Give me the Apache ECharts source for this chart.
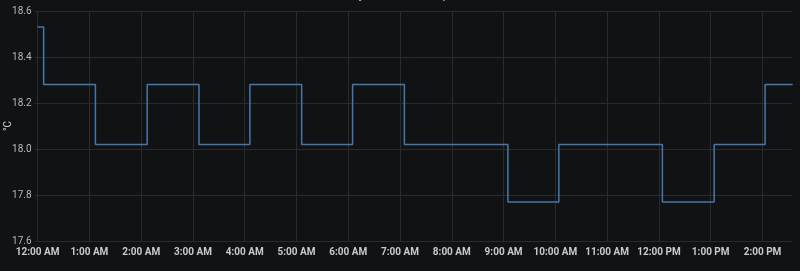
<!DOCTYPE html>
<html>
<head>
<meta charset="utf-8">
<script src="https://cdn.jsdelivr.net/npm/echarts@6/dist/echarts.min.js"></script>
<style>
html,body{margin:0;padding:0;background:#111214;}
#c{width:800px;height:271px;}
</style>
</head>
<body>
<div id="c"></div>
<script>
const seriesName = 'Baby Bedroom Temperature';
const changeTimes = ['00:00','00:07','01:07','02:07','03:07','04:06','05:06','06:05','07:05','09:05','10:04','12:04','13:04','14:03','14:35'];
const temps = [18.53,18.28,18.02,18.28,18.02,18.28,18.02,18.28,18.02,17.77,18.02,17.77,18.02,18.28,18.28];
const yTicks = [17.6,17.8,18.0,18.2,18.4,18.6];
const yUnit = '°C';

function toHours(s){const p=s.split(':');return +p[0]+(+p[1])/60;}
function hourLabel(h){
  const hh=Math.round(h)%24;
  const ap=hh<12?'AM':'PM';
  const d=hh%12===0?12:hh%12;
  return d+':00 '+ap;
}
const data = changeTimes.map((t,i)=>[toHours(t),temps[i]]);
const xMin = toHours(changeTimes[0]);
const xMax = toHours(changeTimes[changeTimes.length-1]);

const chart = echarts.init(document.getElementById('c'));
chart.setOption({
  backgroundColor:'#111214',
  animation:false,
  legend:{
    top:-16, left:318, icon:'circle', itemWidth:10, itemHeight:10,
    textStyle:{color:'#ccccdc',fontSize:12,fontFamily:'Roboto'},
    data:[seriesName]
  },
  grid:{left:37.6,right:7.3,top:11,bottom:30,containLabel:false,outerBoundsMode:'none'},
  xAxis:{
    type:'value', min:xMin, max:xMax, interval:1,
    axisLine:{show:false}, axisTick:{show:false},
    splitLine:{show:true,showMaxLine:false,lineStyle:{color:'#2a2b30',width:1}},
    axisLabel:{color:'#c8c8d0',fontSize:10,fontWeight:'bold',fontFamily:'Roboto',margin:6,showMaxLabel:false,
      formatter:v=>hourLabel(v)}
  },
  yAxis:{
    type:'value', min:yTicks[0], max:yTicks[yTicks.length-1], interval:0.2,
    name:yUnit, nameLocation:'middle', nameGap:24, nameRotate:90, nameMoveOverlap:false,
    nameTextStyle:{color:'#ccccdc',fontSize:10,fontFamily:'Roboto'},
    axisLine:{show:false},
    axisTick:{show:true,length:3,lineStyle:{color:'#2a2b30'}},
    splitLine:{show:true,lineStyle:{color:'#2a2b30',width:1}},
    axisLabel:{color:'#b8b8c0',fontSize:10,fontFamily:'Roboto',margin:6,formatter:v=>v.toFixed(1)}
  },
  series:[{
    name:seriesName, type:'line', step:'end', data:data,
    showSymbol:false, symbol:'none',
    lineStyle:{color:'#4677ab',width:1.5},
    itemStyle:{color:'#4677ab'}
  }]
});
</script>
</body>
</html>
